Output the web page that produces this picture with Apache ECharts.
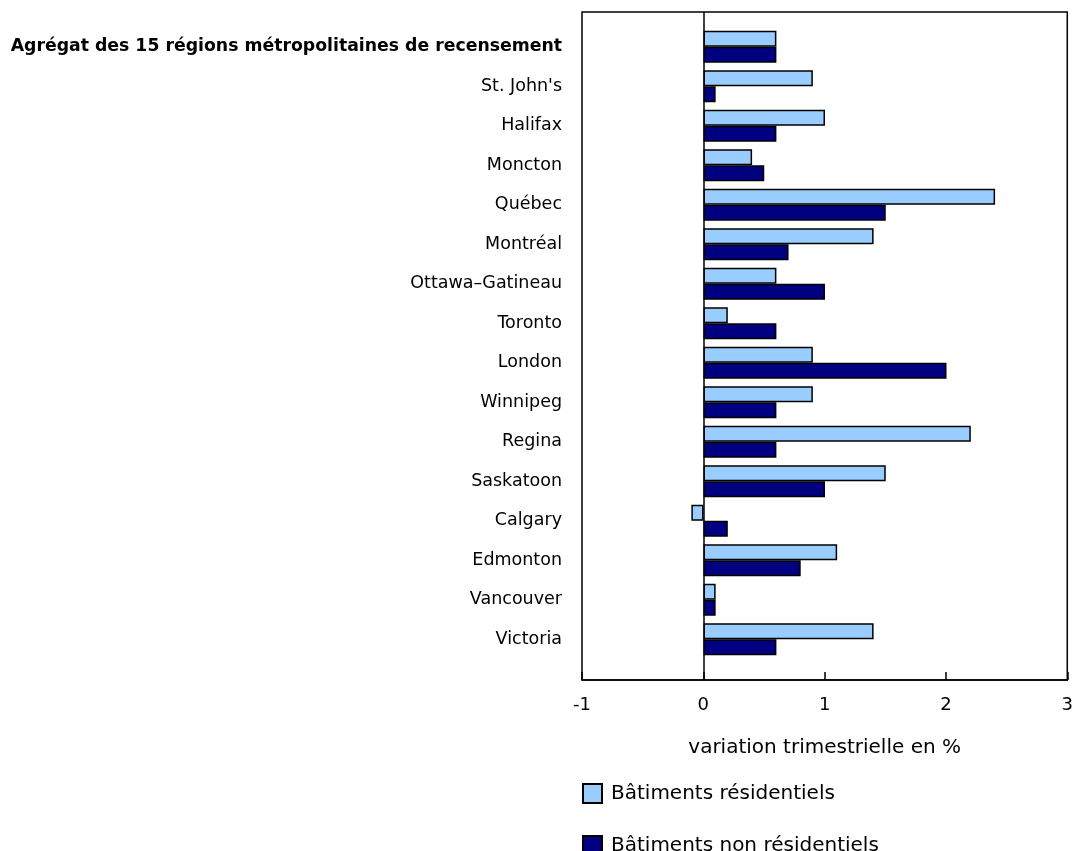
<!DOCTYPE html>
<html>
<head>
<meta charset="utf-8">
<script src="https://cdn.jsdelivr.net/npm/echarts@6/dist/echarts.min.js"></script>
<style>
	html, body { margin: 0; padding: 0; background: #fff; }
	#chart { width: 1076px; height: 851px; }
</style>
</head>
<body>
<div id="chart"></div>
<script>
	// régions (de haut en bas)
	var regions = ['Agrégat des 15 régions métropolitaines de recensement', "St. John's", 'Halifax', 'Moncton', 'Québec',
		'Montréal', 'Ottawa–Gatineau', 'Toronto', 'London', 'Winnipeg', 'Regina', 'Saskatoon', 'Calgary',
		'Edmonton', 'Vancouver', 'Victoria']
	var residentiels = [0.6, 0.9, 1.0, 0.4, 2.4, 1.4, 0.6, 0.2, 0.9, 0.9, 2.2, 1.5, -0.1, 1.1, 0.1, 1.4]
	var nonResidentiels = [0.6, 0.1, 0.6, 0.5, 1.5, 0.7, 1.0, 0.6, 2.0, 0.6, 0.6, 1.0, 0.2, 0.8, 0.1, 0.6]
	var xTicks = [-1, 0, 1, 2, 3]

	var font = 'Verdana, "DejaVu Sans", sans-serif'
	var chart = echarts.init(document.getElementById('chart'))
	var option = {
		animation: false,
		textStyle: { fontFamily: font },
		legend: {
			orient: 'vertical',
			left: 582,
			top: 783,
			height: 120,
			padding: 0,
			icon: 'rect',
			itemWidth: 19,
			itemHeight: 19,
			itemGap: 31,
			textStyle: { fontSize: 20, color: '#000', fontFamily: font, padding: [0, 0, 0, 4] },
			data: ['Bâtiments résidentiels', 'Bâtiments non résidentiels']
		},
		grid: [
			// barres
			{ left: 582, right: 8, top: 27, bottom: 192 },
			// cadre + axe
			{ left: 582, right: 8, top: 12, bottom: 171, show: true, borderColor: '#000', borderWidth: 1.5, backgroundColor: 'transparent' }
		],
		xAxis: [
			{
				gridIndex: 0, type: 'value', min: xTicks[0], max: xTicks[xTicks.length - 1], interval: 1,
				show: false
			},
			{
				gridIndex: 1, type: 'value', min: xTicks[0], max: xTicks[xTicks.length - 1], interval: 1,
				axisLine: { show: true, onZero: false, lineStyle: { color: '#000', width: 1.5 } },
				axisTick: { show: true, inside: true, length: 8, lineStyle: { color: '#000', width: 1.5 } },
				axisLabel: { color: '#000', fontSize: 18, margin: 16, fontFamily: font },
				splitLine: { show: false },
				name: 'variation trimestrielle en %',
				nameLocation: 'middle',
				nameGap: 58,
				nameTextStyle: { color: '#000', fontSize: 20, fontFamily: font }
			}
		],
		yAxis: [
			{
				gridIndex: 0, type: 'category', data: regions, inverse: true,
				axisLine: { show: false },
				axisTick: { show: false },
				axisLabel: {
					color: '#000', fontSize: 17.5, margin: 20, fontFamily: font,
					formatter: function (v, i) {
						return i === 0 ? '{b|' + v + '}' : v
					},
					rich: { b: { fontWeight: 'bold', fontSize: 17.3, color: '#000', fontFamily: font } }
				}
			},
			{
				gridIndex: 1, type: 'value', min: 0, max: 1,
				axisLine: { show: true, onZero: true, lineStyle: { color: '#000', width: 1.5 } },
				axisTick: { show: false },
				axisLabel: { show: false },
				splitLine: { show: false }
			}
		],
		series: [
			{
				name: 'Bâtiments résidentiels',
				type: 'bar',
				xAxisIndex: 0, yAxisIndex: 0,
				data: residentiels,
				barWidth: 16,
				barGap: '0%',
				itemStyle: { color: '#99CCFF', borderColor: '#000', borderWidth: 1.5 }
			},
			{
				name: 'Bâtiments non résidentiels',
				type: 'bar',
				xAxisIndex: 0, yAxisIndex: 0,
				data: nonResidentiels,
				barWidth: 16,
				barGap: '0%',
				itemStyle: { color: '#000080', borderColor: '#000', borderWidth: 1.5 }
			}
		]
	}
	chart.setOption(option)
</script>
</body>
</html>
